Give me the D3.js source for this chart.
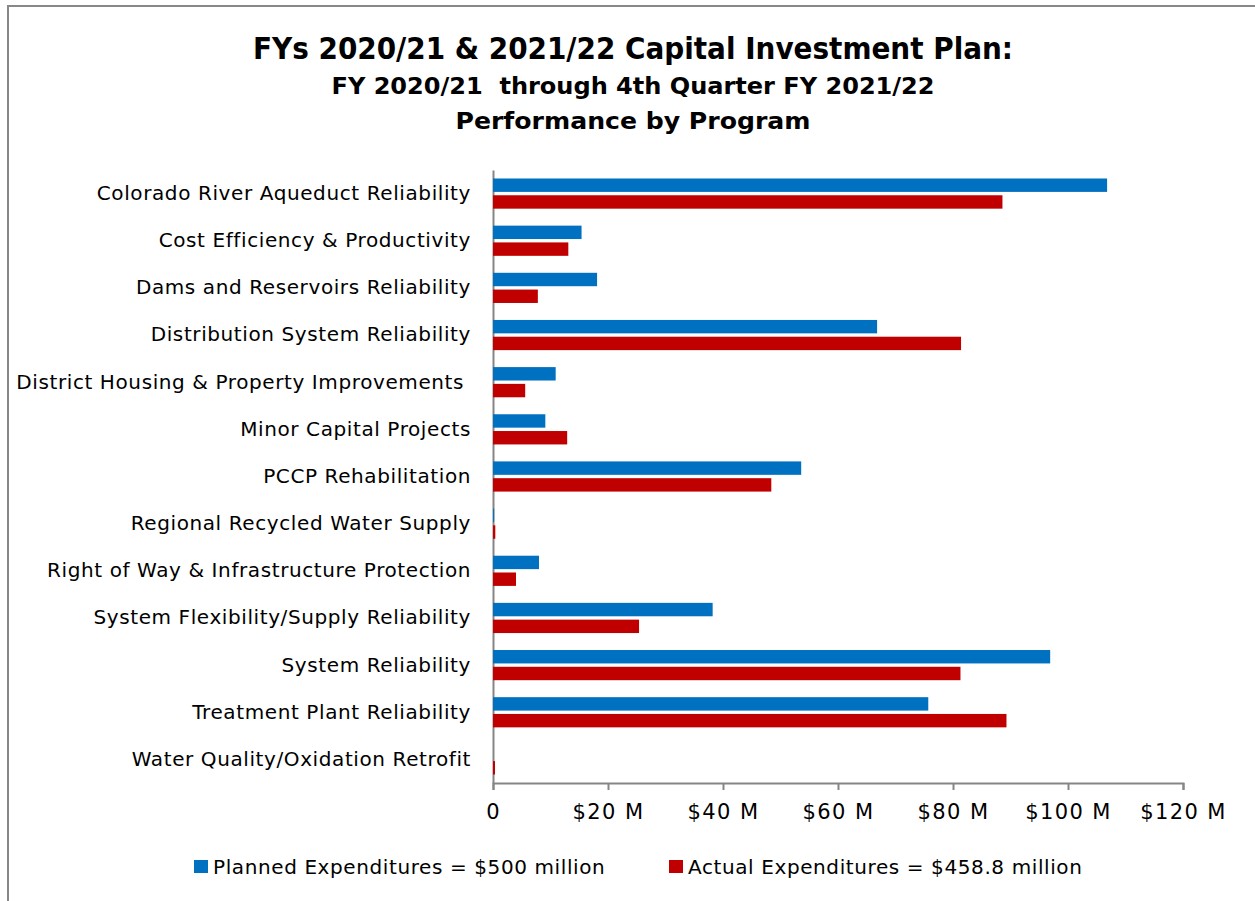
<!DOCTYPE html>
<html>
<head>
<meta charset="utf-8">
<script src="https://cdn.jsdelivr.net/npm/d3@7"></script>
<style>
    body { margin: 0; background: #fff; }
    svg text { font-family: 'DejaVu Sans', sans-serif; fill: #000; }
</style>
</head>
<body>
<div id="chart-area"></div>
<script>

// capital investment plan - planned vs actual expenditures by program ($M)

const programs = [
    'Colorado River Aqueduct Reliability',
    'Cost Efficiency & Productivity',
    'Dams and Reservoirs Reliability',
    'Distribution System Reliability',
    'District Housing & Property Improvements ',
    'Minor Capital Projects',
    'PCCP Rehabilitation',
    'Regional Recycled Water Supply',
    'Right of Way & Infrastructure Protection',
    'System Flexibility/Supply Reliability',
    'System Reliability',
    'Treatment Plant Reliability',
    'Water Quality/Oxidation Retrofit'
];

const plannedValues = [106.8, 15.4, 18.1, 66.8, 10.9, 9.1, 53.6, 0.2, 8.0, 38.2, 96.9, 75.7, 0];
const actualValues  = [88.6, 13.1, 7.8, 81.4, 5.6, 12.9, 48.4, 0.4, 4.0, 25.4, 81.3, 89.3, 0.35];

const seriesKeys = ['planned', 'actual'];
const seriesColors = ['#0070C0', '#C00000'];
const legendLabels = ['Planned Expenditures = $500 million', 'Actual Expenditures = $458.8 million'];

const xTicks = [0, 20, 40, 60, 80, 100, 120];

const titleLines = [
    'FYs 2020/21 & 2021/22 Capital Investment Plan:',
    'FY 2020/21  through 4th Quarter FY 2021/22',
    'Performance by Program'
];


class BarChart {

    constructor(parentElement) {
        this.parentElement = parentElement;

        // table built from the arrays above
        this.data = programs.map((p, i) => ({
            program: p,
            planned: plannedValues[i],
            actual: actualValues[i]
        }));

        this.initVis();
    }

    initVis() {
        let vis = this;

        vis.margin = {top: 170, right: 72, bottom: 118, left: 493};
        vis.width = 1255 - vis.margin.left - vis.margin.right;
        vis.height = 901 - vis.margin.top - vis.margin.bottom;

        vis.root = d3.select('#' + vis.parentElement).append('svg')
            .attr('width', 1255)
            .attr('height', 901);

        // outer frame
        vis.root.append('rect')
            .attr('x', 8)
            .attr('y', 6)
            .attr('width', 1260)
            .attr('height', 920)
            .attr('fill', 'none')
            .attr('stroke', '#888')
            .attr('stroke-width', 2);

        // titles
        let titleSizes = [30, 23, 23];
        let titleY = [59, 94, 129];
        let titleWidths = [760, 603, 355];

        vis.root.selectAll('.title')
            .data(titleLines)
            .enter()
            .append('text')
            .attr('class', 'title')
            .attr('x', 633)
            .attr('y', (d, i) => titleY[i])
            .attr('text-anchor', 'middle')
            .attr('textLength', (d, i) => titleWidths[i])
            .attr('lengthAdjust', 'spacingAndGlyphs')
            .style('font-family', "'DejaVu Sans Condensed', 'DejaVu Sans', sans-serif")
            .style('font-weight', 'bold')
            .style('font-size', (d, i) => titleSizes[i] + 'px')
            .style('white-space', 'pre')
            .text(d => d);

        vis.svg = vis.root.append('g')
            .attr('transform', `translate(${vis.margin.left}, ${vis.margin.top})`);

        // scales
        vis.xScale = d3.scaleLinear()
            .domain([0, 120])
            .range([0, vis.width]);

        vis.yScale = d3.scaleBand()
            .domain(programs)
            .range([0, vis.height])
            .paddingInner(0.36)
            .paddingOuter(0.18);

        vis.ySub = d3.scaleBand()
            .domain(seriesKeys)
            .range([0, vis.yScale.bandwidth()])
            .paddingInner(0.2);

        vis.color = d3.scaleOrdinal()
            .domain(seriesKeys)
            .range(seriesColors);

        vis.xAxisGroup = vis.svg.append('g')
            .attr('class', 'x-axis axis')
            .attr('transform', 'translate(0, ' + vis.height + ')');

        vis.yAxisGroup = vis.svg.append('g')
            .attr('class', 'y-axis axis');

        vis.updateVis();
    }

    updateVis() {
        let vis = this;

        // bars
        vis.groups = vis.svg.selectAll('.group')
            .data(vis.data)
            .enter()
            .append('g')
            .attr('class', 'group')
            .attr('transform', d => `translate(0, ${vis.yScale(d.program)})`);

        vis.groups.selectAll('rect')
            .data(d => seriesKeys.map(k => ({key: k, value: d[k]})))
            .enter()
            .append('rect')
            .attr('x', vis.xScale(0))
            .attr('y', d => vis.ySub(d.key))
            .attr('width', d => vis.xScale(d.value) - vis.xScale(0))
            .attr('height', vis.ySub.bandwidth())
            .attr('fill', d => vis.color(d.key));

        // x axis
        vis.xAxisGroup
            .call(d3.axisBottom(vis.xScale)
                .tickValues(xTicks)
                .tickSize(7)
                .tickSizeOuter(7)
                .tickPadding(14)
                .tickFormat(d => d === 0 ? '0' : '$' + d + ' M'));

        vis.xAxisGroup.select('.domain')
            .attr('stroke', '#868686')
            .attr('stroke-width', 2);
        vis.xAxisGroup.selectAll('.tick line')
            .attr('stroke', '#868686')
            .attr('stroke-width', 2);
        vis.xAxisGroup.selectAll('text')
            .style('font-size', '21px')
            .style('letter-spacing', '1.4px')
            .attr('fill', '#000');

        // y axis (no ticks)
        vis.yAxisGroup
            .call(d3.axisLeft(vis.yScale)
                .tickSize(0)
                .tickSizeOuter(0)
                .tickPadding(22));

        vis.yAxisGroup.select('.domain')
            .attr('stroke', '#868686')
            .attr('stroke-width', 2);
        vis.yAxisGroup.selectAll('text')
            .style('font-size', '20px')
            .style('letter-spacing', '0.6px')
            .style('white-space', 'pre')
            .attr('fill', '#000');

        // legend
        let legendX = [194, 669];
        vis.legend = vis.root.selectAll('.legend')
            .data(legendLabels)
            .enter()
            .append('g')
            .attr('class', 'legend')
            .attr('transform', (d, i) => `translate(${legendX[i]}, 860)`);

        vis.legend.append('rect')
            .attr('width', 14)
            .attr('height', 13)
            .attr('fill', (d, i) => seriesColors[i]);

        vis.legend.append('text')
            .attr('x', 19)
            .attr('y', 7)
            .attr('dy', '0.35em')
            .style('font-size', '20px')
            .style('letter-spacing', '0.6px')
            .text(d => d);
    }
}

let chart = new BarChart('chart-area');

</script>
</body>
</html>
